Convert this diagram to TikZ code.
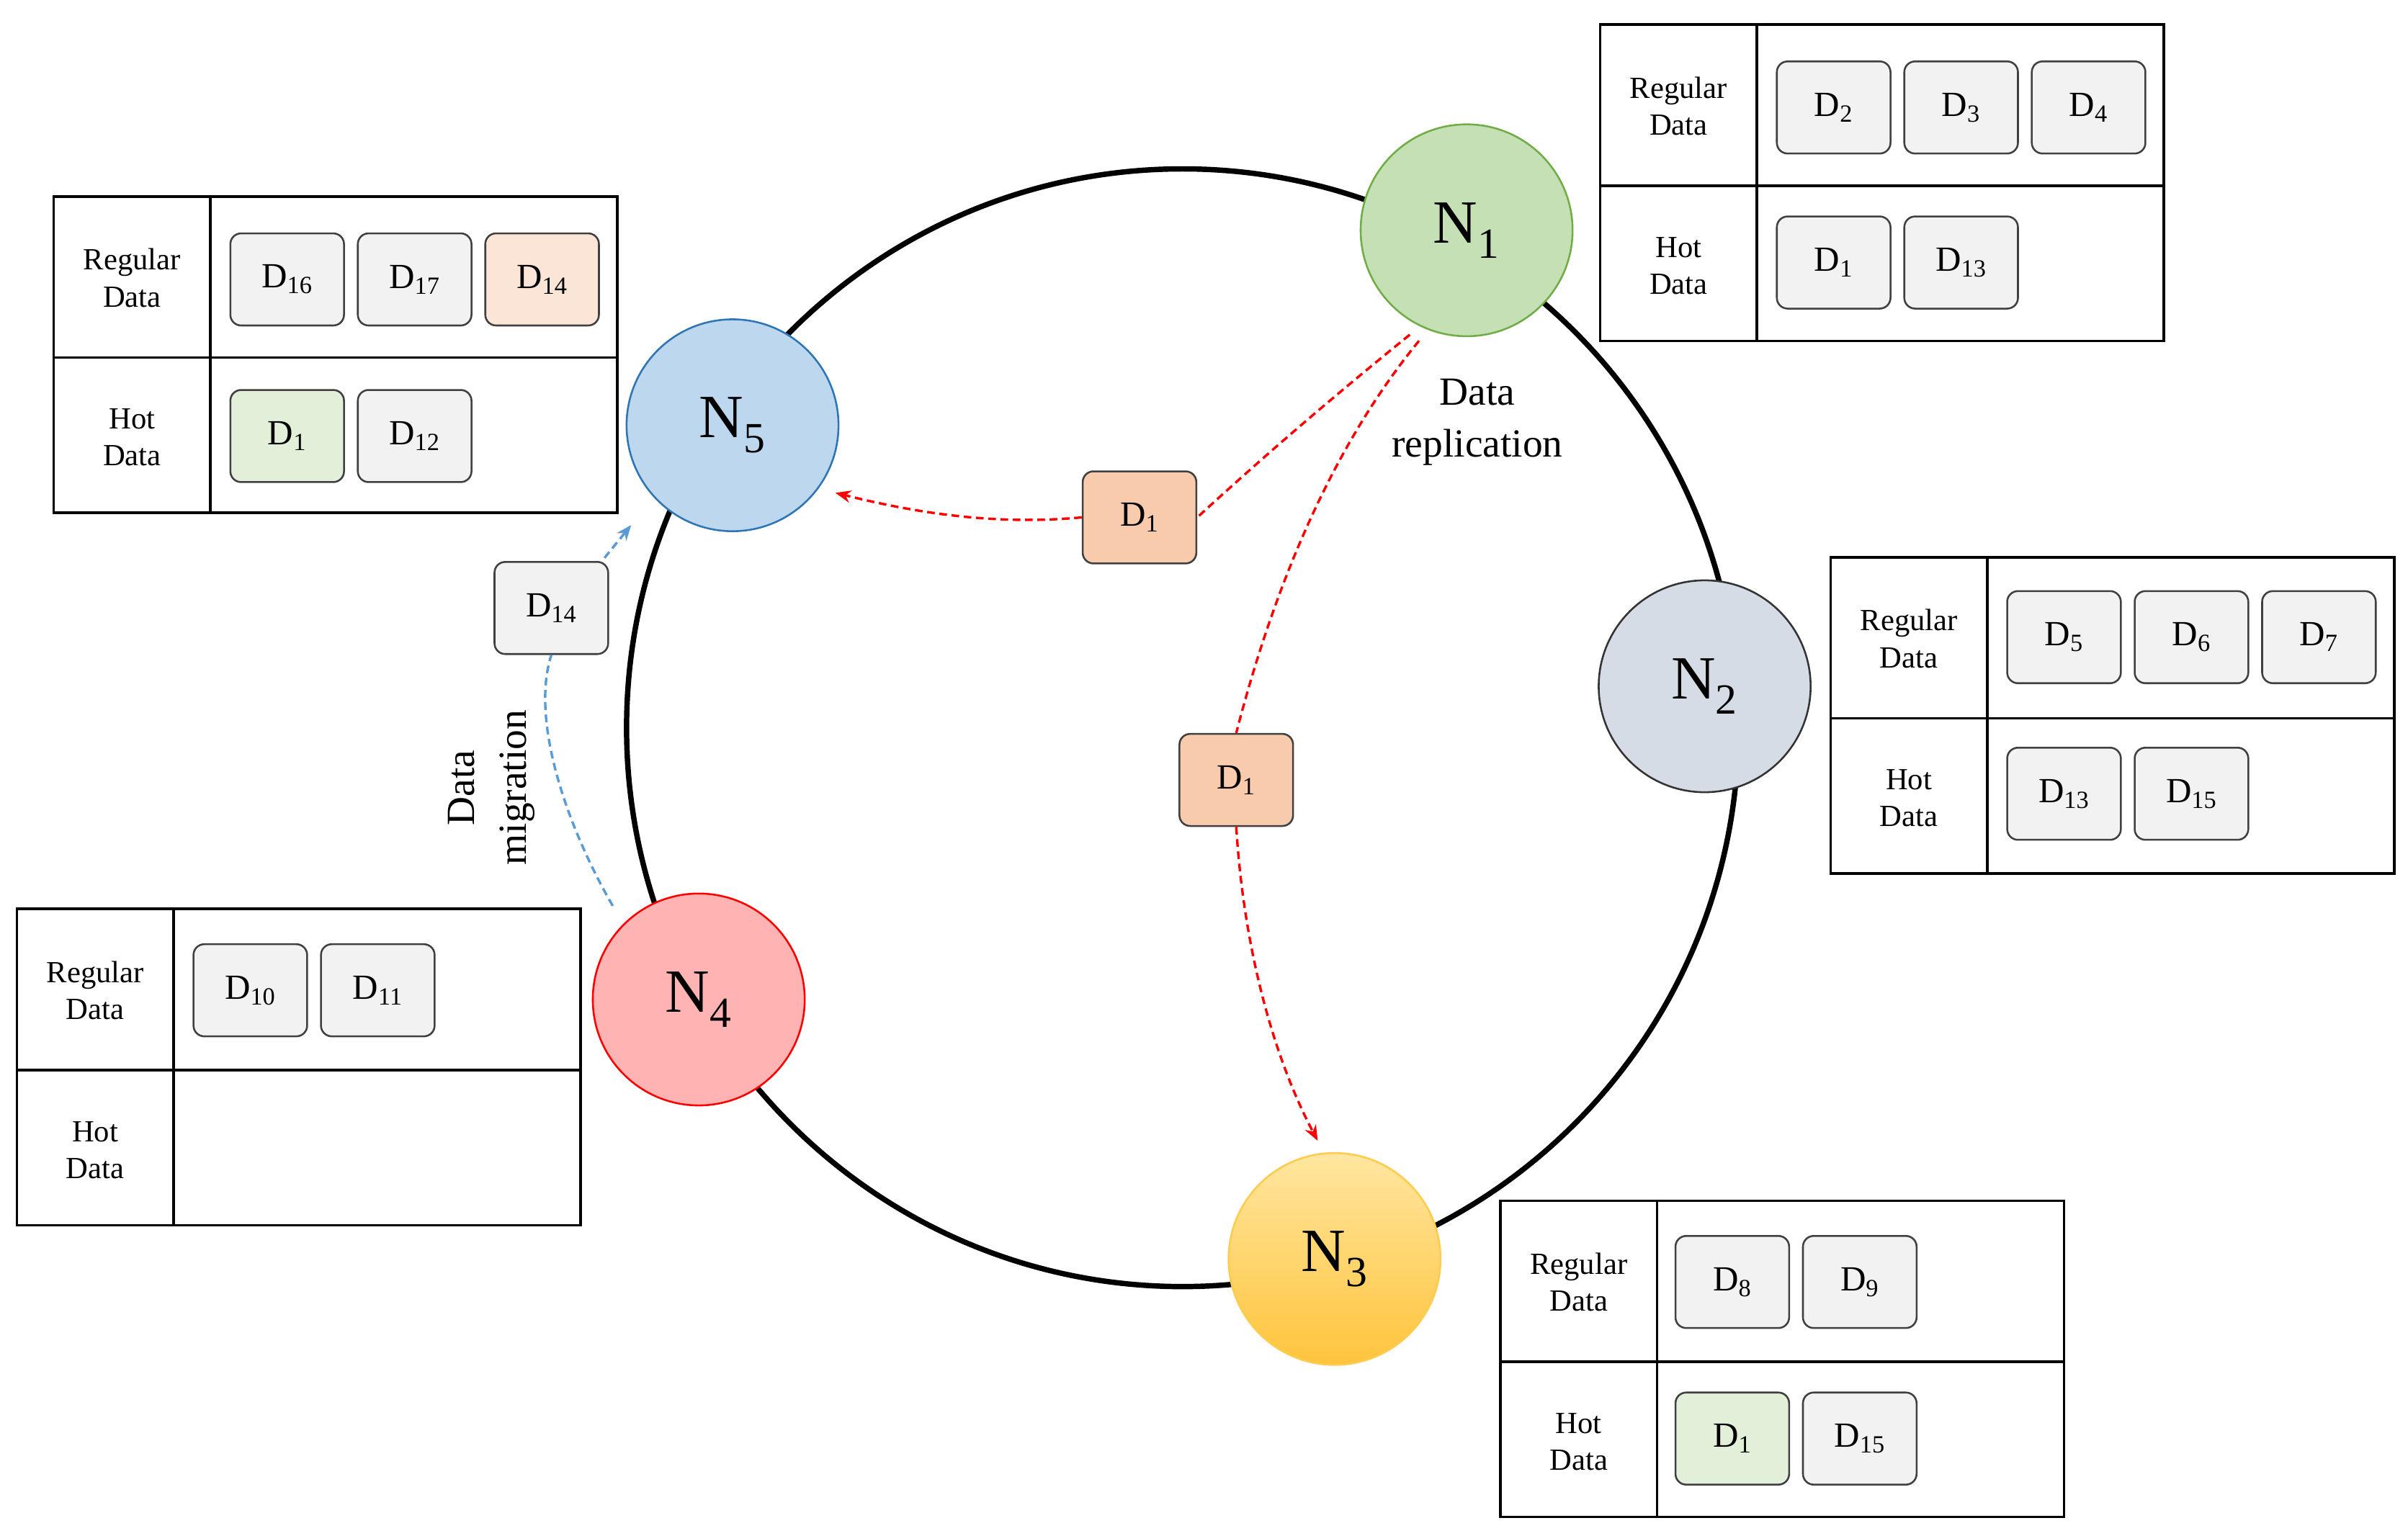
\documentclass[tikz,border=0pt]{standalone}
\usepackage{fontspec}
\setmainfont{Liberation Serif}
\usetikzlibrary{arrows.meta}
\definecolor{gbox}{HTML}{F2F2F2}
\definecolor{gedge}{HTML}{404040}
\definecolor{grn}{HTML}{E2F0D9}
\definecolor{org}{HTML}{F8CBAD}
\definecolor{peach}{HTML}{FBE5D6}
\tikzset{
 ring/.style={line width=3.5pt},
 nd/.style={circle,minimum size=138pt,inner sep=0pt,line width=1.2pt,font=\fontsize{40}{44}\selectfont},
 tbl/.style={line width=1.6pt},
 lbl/.style={align=center,font=\fontsize{20}{24}\selectfont},
 db/.style={draw=gedge,fill=gbox,rounded corners=7pt,line width=1.2pt,minimum width=74pt,minimum height=60pt,inner sep=0pt,font=\fontsize{23}{26}\selectfont},
 rep/.style={red,dashed,line width=1.6pt,dash pattern=on 5pt off 3pt},
 mig/.style={color={rgb,255:red,91;green,155;blue,213},line width=1.6pt,dash pattern=on 5pt off 3pt},
}
\newcommand\DD[1]{D\textsubscript{#1}}
% table: #1 name, #2 left x, #3 top y
\newcommand\mytable[3]{%
 \draw[tbl] (#2,#3) rectangle ++(367,206);
 \draw[tbl] (#2+102,#3) -- ++(0,206);
 \draw[tbl] (#2,#3+105) -- ++(367,0);
 \node[lbl] (#1rl) at (#2+51,#3+53) {Regular\\Data};
 \node[lbl] (#1hl) at (#2+51,#3+157) {Hot\\Data};
}
\begin{document}
\begin{tikzpicture}[x=1pt,y=-1pt]
\useasboundingbox (0,0) rectangle (1568,1000);
\draw[ring] (770,474) ellipse [x radius=362,y radius=364];
% nodes
\node[nd,draw={rgb,255:red,112;green,173;blue,71},fill={rgb,255:red,197;green,224;blue,180}] (n1) at (955,150) {N\textsubscript{1}};
\node[nd,draw={rgb,255:red,46;green,117;blue,182},fill={rgb,255:red,189;green,215;blue,238}] (n5) at (477,277) {N\textsubscript{5}};
\node[nd,draw={rgb,255:red,51;green,51;blue,51},fill={rgb,255:red,214;green,220;blue,229}] (n2) at (1110,447) {N\textsubscript{2}};
\node[nd,draw=red,fill={rgb,255:red,255;green,179;blue,179}] (n4) at (455,651) {N\textsubscript{4}};
\node[nd,draw={rgb,255:red,255;green,204;blue,80},top color={rgb,255:red,255;green,230;blue,160},bottom color={rgb,255:red,255;green,196;blue,60}] (n3) at (869,820) {N\textsubscript{3}};
% tables
\mytable{t1}{1042}{16}
\node[db] (a2) at (1194,70) {\DD{2}};
\node[db] (a3) at (1277,70) {\DD{3}};
\node[db] (a4) at (1360,70) {\DD{4}};
\node[db] (a1) at (1194,171) {\DD{1}};
\node[db] (a13) at (1277,171) {\DD{13}};
\mytable{t5}{35}{128}
\node[db] (b16) at (187,182) {\DD{16}};
\node[db] (b17) at (270,182) {\DD{17}};
\node[db,fill=peach] (b14) at (353,182) {\DD{14}};
\node[db,fill=grn] (b1) at (187,284) {\DD{1}};
\node[db] (b12) at (270,284) {\DD{12}};
\mytable{t2}{1192}{363}
\node[db] (c5) at (1344,415) {\DD{5}};
\node[db] (c6) at (1427,415) {\DD{6}};
\node[db] (c7) at (1510,415) {\DD{7}};
\node[db] (c13) at (1344,517) {\DD{13}};
\node[db] (c15) at (1427,517) {\DD{15}};
\mytable{t4}{11}{592}
\node[db] (e10) at (163,645) {\DD{10}};
\node[db] (e11) at (246,645) {\DD{11}};
\mytable{t3}{977}{782}
\node[db] (f8) at (1128,835) {\DD{8}};
\node[db] (f9) at (1211,835) {\DD{9}};
\node[db,fill=grn] (f1) at (1128,937) {\DD{1}};
\node[db] (f15) at (1211,937) {\DD{15}};
% moving data
\node[db,fill=org] (m1) at (742,337) {\DD{1}};
\node[db,fill=org] (m2) at (805,508) {\DD{1}};
\node[db] (m14) at (359,396) {\DD{14}};
% arrows
\coordinate (s1) at (918,218);
\coordinate (s2) at (924,222);
\draw[rep] (s1) .. controls (860,265) and (820,300) .. (m1.east);
\draw[rep,-{Stealth[length=10pt,width=8pt]}] (m1.west) .. controls (650,342) and (600,335) .. (544,321);
\draw[rep] (s2) .. controls (860,300) and (825,400) .. (m2.north);
\draw[rep,-{Stealth[length=10pt,width=8pt]}] (m2.south) .. controls (810,620) and (830,690) .. (858,743);
\coordinate (s4) at (399,590);
\draw[mig] (s4) .. controls (370,540) and (345,470) .. (m14.south);
\draw[mig,-{Stealth[length=10pt,width=8pt]}] (m14.north east) ++(-3,-2) -- (411,342);
% labels
\node[lbl,font=\fontsize{26}{34}\selectfont] (rl) at (962,275) {Data\\replication};
\node[lbl,font=\fontsize{26}{34}\selectfont,rotate=90] (ml) at (320,513) {Data\\migration};
\end{tikzpicture}
\end{document}
